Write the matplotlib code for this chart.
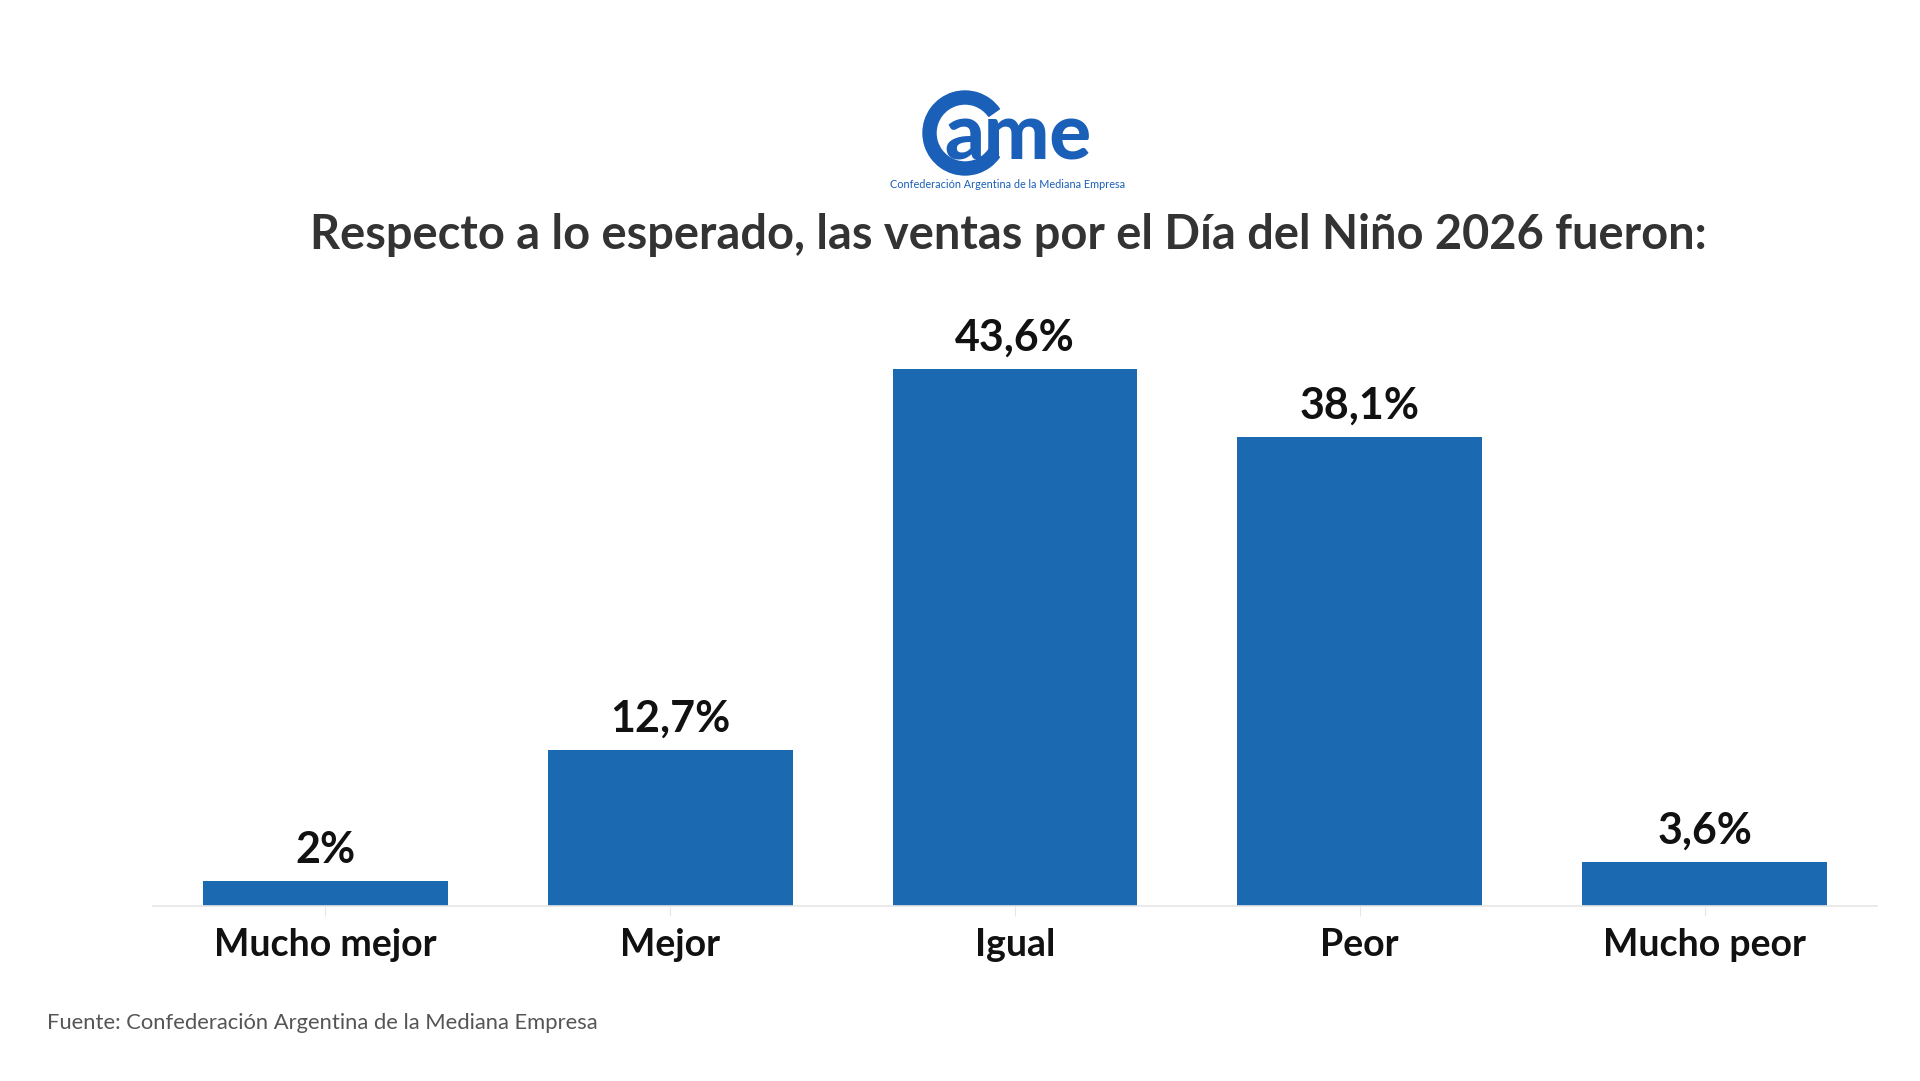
import matplotlib.pyplot as plt
from matplotlib.patches import Wedge

plt.rcParams['font.family'] = ['Lato', 'DejaVu Sans']

categorias = ['Mucho mejor', 'Mejor', 'Igual', 'Peor', 'Mucho peor']
valores = [2.0, 12.7, 43.6, 38.1, 3.6]
etiquetas = ['2%', '12,7%', '43,6%', '38,1%', '3,6%']

titulo = 'Respecto a lo esperado, las ventas por el Día del Niño 2026 fueron:'
fuente = 'Fuente: Confederación Argentina de la Mediana Empresa'

azul = '#1b69b0'
azul_logo = '#1a5fb8'

W, H = 1920, 1081
fig = plt.figure(figsize=(W / 100, H / 100), dpi=100)
fig.patch.set_facecolor('white')

# chart area
ax = fig.add_axes([153 / W, 175 / H, 1724 / W, 616 / H])
x = range(len(categorias))
ax.bar(x, valores, width=0.71, color=azul)
ax.set_xlim(-0.5, 4.5)
ax.set_ylim(0, 50)
for i, v in enumerate(valores):
    ax.annotate(etiquetas[i], (i, v), xytext=(0, 13), textcoords='offset points',
                ha='center', va='baseline', fontsize=31, fontweight='bold', color='#111111')
ax.set_xticks(list(x))
ax.set_xticklabels(categorias, fontsize=27, fontweight='bold', color='#111111')
ax.tick_params(axis='x', length=7, color='#e6e6e6', pad=9)
ax.set_yticks([])
for s in ['top', 'right', 'left']:
    ax.spines[s].set_visible(False)
ax.spines['bottom'].set_color('#e6e6e6')
ax.spines['bottom'].set_linewidth(1.2)

# title and source
fig.text(1008 / W, 1 - 249 / H, titulo, ha='center', va='baseline',
         fontsize=33.8, fontweight='bold', color='#333333')
fig.text(47 / W, 1 - 1029 / H, fuente, ha='left', va='baseline',
         fontsize=15.8, color='#555555')

# logo drawn in pixel coordinates
lg = fig.add_axes([0, 0, 1, 1], facecolor='none')
lg.set_xlim(0, W)
lg.set_ylim(H, 0)
lg.axis('off')
lg.add_patch(Wedge((965, 133), 42, 35, 325, width=13, color=azul_logo))
lg.text(944, 160, 'ame', fontsize=56, fontweight='black', color=azul_logo,
        ha='left', va='baseline')
lg.text(1008, 185, 'Confederación Argentina de la Mediana Empresa', fontsize=7.8,
        color=azul_logo, ha='center', va='center')

fig.savefig('out.png', dpi=100)
